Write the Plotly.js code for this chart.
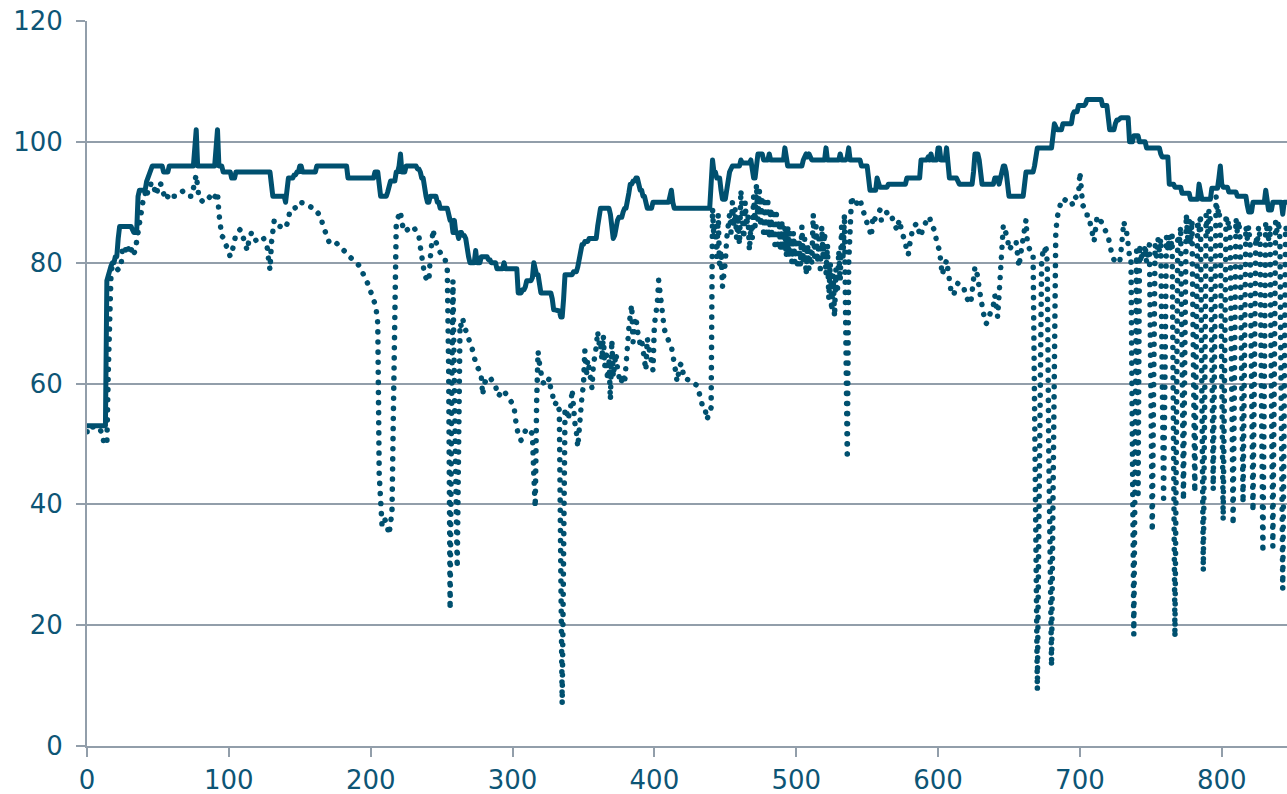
<!DOCTYPE html>
<html><head><meta charset="utf-8">
<script src="https://cdn.plot.ly/plotly-3.0.1.min.js"></script>
<style>html,body{margin:0;padding:0;background:#fff;overflow:hidden}#chart{width:1287px;height:794px}</style>
</head><body><div id="chart"></div>
<script>
const solidValues = [
53,53,53,53,53,53,53,53,53,53,
53,53,53,53,77,78,79,79.5,80,80,
81,81,84,86,86,86,86,86,86,86,
86,86,85.5,85,85,85,91,92,92,92,
92,92,93.4,94,94.5,95.5,96,96,96,96,
96,96,96,96,95,95,95,95,96,96,
96,96,96,96,96,96,96,96,96,96,
96,96,96,96,96,96,99,102,96,96,
96,96,96,96,96,96,96,96,96,96,
96,99,102,96,96,96,95,95,95,95,
95,95,94,94,94,95,95,95,95,95,
95,95,95,95,95,95,95,95,95,95,
95,95,95,95,95,95,95,95,95,95,
93,91,91,91,91,91,91,91,91,91,
90,92,94,94,94,94,94.5,94.5,95,95,
96,96,95,95,95,95,95,95,95,95,
95,95,96,96,96,96,96,96,96,96,
96,96,96,96,96,96,96,96,96,96,
96,96,96,96,94,94,94,94,94,94,
94,94,94,94,94,94,94,94,94,94,
94,94,94,95,95,95,93,91,91,91,
91,91,91.7,92.5,93.5,93.5,93.5,93.5,95,95,
96,98,95,95,95,96,96,96,96,96,
96,96,96,95.5,95.5,95,94,94,92,91,
90,90,91,91,91,91,91,90,90,89,
89,89,89,89,89,88,87,87,85,87,
85,85,84,85,85,84.5,84.5,84,82,81,
80,80,80,80,82,80,80,80,81,81,
81,81,81,80.5,80.5,80,80,80,80,79,
79,79,79,79,80,79,79,79,79,79,
79,79,79,79,75,75,75,75.5,75.5,76,
77,77,77,77,77.5,80,79,78,78,76,
75,75,75,75,75,75,75,75,74,72.2,
72.2,72.2,72,72,71,71,74,78,78,78,
78,78,78,78.5,78.5,78.5,79.3,81,82.6,83,
83,83.5,83.5,83.5,84,84,84,84,84,84,
86,87.5,89,89,89,89,89,89,89,88,
86,84,84.5,86,87,87.5,87.5,87.5,88.4,89,
89,90,91.5,93,93,93.5,93.5,94,94,93,
92,92,91,91,90,89,89,89,89,90,
90,90,90,90,90,90,90,90,90,90,
90,91,92,90,89,89,89,89,89,89,
89,89,89,89,89,89,89,89,89,89,
89,89,89,89,89,89,89,89,89,89,
93,97,95,95,94,94,94,92,90.5,90.5,
90.5,92,94,95,95.5,96,96,96,96,96,
96,97,96.5,96.5,96.5,96.5,96.5,96.5,97,95,
94,94,96,98,98,98,98,97,97,97,
97,98,97,97,97,97,97,97,97,97,
97,97,99,97,96,96,96,96,96,96,
96,96,96,96,96,97,97.5,98,97.5,98,
97.5,97,97,97,97,97,97,97,97,97,
97,99,97,97,97,97,97,97,97,97,
97,98,97,97,97,97,97.5,99,97,97,
97,97,97,97,97,97,96,96,96,96,
96,94,92,92,92,92,92,94,93,92.5,
92.5,92.5,92.5,92.5,92.5,93,93,93,93,93,
93,93,93,93,93,93,93,93,94,94,
94,94,94,94,94,94,94,94,97,97,
97,97,97,97.5,97,98,97,97,97,97,
99,99,97,97,97,97,99,96,94,94,
94,94,94,94,93.5,93,93,93,93,93,
93,93,93,93,93,95,98,98,98,97,
94,93,93,93,93,93,93,93,93,93,
94,94,94,93,94,95,96,96,95,93,
91,91,91,91,91,91,91,91,91,91,
91,93,95,95,95,95,95,95,96,98,
99,99,99,99,99,99,99,99,99,99,
99,101,103,102.5,102,102,102,102,103,103,
103,103,103,103,103,104.5,105,105,105,106,
106,106,106,106,106.3,107,107,107,107,107,
107,107,107,107,107,107,106,106,106,106,
104,102,102,102,102,103,103.6,103.6,104,104,
104,104,104,104,104,100,100,100,101,101,
101,101,100,100,100,100,100,99,99,99,
99,99,99,99,99,99,99,98,97.5,97.5,
97.5,97.5,97.5,93,93,93,93,92.5,92.5,92.5,
92.5,92.5,91.5,91.5,91.5,91.5,91.5,91.5,90.5,90.5,
90.5,90.5,90.5,90.5,93,91,90.5,90.5,90.5,90.5,
90.5,90.5,90.5,92.3,92.3,92.3,92.3,92.3,94,96,
93,92.5,92.5,92.5,92.5,91.7,91.7,91.7,91.7,91.7,
91.7,91,91,91,91,91,91,91,89.5,88.4,
88.4,88.4,90,90,90,90,90,90,90,90,
90,92,90,88.7,88.7,88.7,90,90,90,90,
90,90,90,88,90,90,90
];
const dottedValues = [
52,52,52.5,53,52.8,52.8,52.8,52.8,52.5,52.5,
52,51.5,50,50,50,62,74,78.8,79.3,79,
79.3,79,78.8,79,79.3,82.6,82.5,82,83,82.4,
81.4,82,82.5,81.5,82,83.5,85,87,89,90.5,
91,91.5,90.7,92,92,93,93.2,93.2,91.5,91.2,
92.5,93.2,93,92,91.5,90.7,90.4,91,91.5,91.5,
91.2,91,91,91,91.3,91.5,91.8,92,91.9,91.7,
91.5,91.5,91.2,91,91,92.9,93.5,94.5,92,90.6,
90.5,90.2,90,90,90.3,90.7,91,91,90.5,90.4,
90.8,91.3,91.7,88.2,86,84.4,84.2,83.5,83,82.6,
81.5,81,81.5,82.7,83.5,84.7,85,85.3,85.5,85,
84.3,84,83,82,83.5,84,85,84.5,84,83.7,
83.8,84,84,84.2,84.3,83.8,83,82.6,80.5,78.8,
83.2,85.1,87,86.5,86,86,86,85.9,85.8,85.7,
85.7,86.4,87,88.7,88.8,89,89,89.2,89.3,89.3,
90,90,89.9,89.8,89.8,89.7,89.5,89.4,89.2,89,
89,88.7,88.4,88.1,87.9,87.6,86.4,85.6,84.9,84.4,
83.6,83.2,83.1,83.2,83.3,83.3,83.2,83,82.7,82.4,
82.1,81.9,81.7,81.5,81.3,81.1,80.8,80.6,80.4,80.2,
80,79.9,79.5,79,78.5,78.3,78,77.3,76.7,76,
75.2,74.6,74,73.2,72,70,45,37,36.5,37.5,
37.5,36.9,36,35,37,38.5,55,84,86,87.3,
88.4,88.5,86.5,85.5,85.1,85.3,85.5,85.7,85.8,86,
86,85.6,85,84.6,84.4,82.6,80.8,78.8,78,77.5,
77,76.9,80.7,84.5,85.5,84,83.3,82.7,82,81.7,
81.5,81.3,81,80,79,62,22.6,55,77,60,
40,29.5,50,70,69.4,70.6,69.5,68.9,68.3,67.7,
67.2,66,65.4,64.3,63.3,62.8,62.4,62,61,58.1,
60,60.5,60.8,61.1,61,60.7,60.4,60,59.7,58.5,
57.9,58.2,58.5,58.7,58.9,58.4,58,57.5,57.2,57,
56.7,56.3,54.2,52.3,51.5,51,50.6,51.2,51.8,52.2,
52.6,52.4,52.1,51.9,51.7,45,39.5,57,65.3,63.3,
61.5,60.5,60,60.2,59.9,60.5,60.9,58.9,58.5,57,
56.5,57,56,55.6,30,7,32,55.5,55.9,54,
55,56.2,59,54.5,53.4,52,49.5,52.3,56.2,58,
59.7,65.5,61.1,63.9,62.5,60.8,59.2,63,64.4,66,
68.6,66.6,67.2,63.9,68,62.8,65.5,60.6,64.2,57.3,
67.2,61.1,63.3,65,62.5,61,60,60.5,61.5,60,
63.9,67.7,69.1,71.3,73,66.9,69.4,71,68.8,67,
66.5,67.2,65,64.4,62.2,67.5,66,65,64.4,62.2,
69.7,71.6,73.2,77.1,75.2,72,70,69,68.3,67.5,
67,66.5,66.1,65,63.9,62,60.3,62.8,63,63.3,
61.5,60.8,60.8,60.7,60.7,60.6,60.6,60.3,60,59.8,
59.7,59,58.1,57,56.2,56.2,55.5,54,54.5,55,
56,89,84,86,81,88,79,82,76,78,
80,84,86,88,85,90,86,89,84,87,
83,92,88,84,90,86,88,82,86,84,
91,86,93,87,92,86,91,85,90,85,
90,84,89,84,88,83,88,83,87,82,
87,82,86,81,86,81,85,80,85,80,
84,79,84,79.5,86,80,84,78,83,79,
82,80,88,81,86,80,84,79,86,81,
85,78,83,74,80,72,78,71,79,75,
82,77,86,81,88,70,47.5,80,89,91,
90,89.5,89.3,90,90.6,90.6,89.5,88.5,87.7,87,
86.5,86,85,84.3,87.6,87,87.5,88,88.5,88.7,
87,87.5,88,88.2,88.3,88.4,88.4,87.8,87.2,86.5,
85.8,85.4,86.5,87.1,85.5,84.9,84,83.2,81.8,81.3,
83,84.9,85.5,86,86.3,86.5,85.5,84.8,84.3,85.5,
86.2,86.5,87,87.3,87.6,86.5,86,85.5,85.1,83.2,
82.5,82.1,79.9,78,79,80,80.4,78.8,76.6,75.5,
74.8,74.6,75.5,76,76.6,76.4,76.2,76.1,76,75,
74.1,73.8,73.5,73.2,75.2,77.1,79.3,78.5,77.7,75.7,
73.8,72.5,71.6,70.8,69.9,70.5,71,71.6,72.5,73,
74.6,72.8,71,74.6,78.2,84.3,86.2,85.5,84.8,84,
82.1,82.5,83,83.3,83.5,83.5,80.7,79.3,81,82.5,
83.2,84.9,87.1,83.2,82.3,81.5,81.3,81.2,55,28,
9.3,35,62,80,82,81.5,83,80,50,25,
13.2,40,70,85,87.5,88.5,89.5,90.4,90.3,90.2,
90.5,90.6,90.4,90.2,90.1,89.5,90.6,90.8,91,91.2,
95,91,89.5,89.2,88.5,87.9,87.9,86.5,86,84.1,
83.5,85.5,87.4,87,86.5,86.8,86.3,85.8,85.4,85,
84.3,83,81.6,81,80.5,80,80,80,80,82,
84,86.8,85.5,84.9,83,81,81,50,18.4,50,
82,41,83,80,82,81,83,80,82,83,
60,35.5,60,83,81,84,82,84,62,41,
62,84.3,82,84.5,82,84.6,50,18,50,84.6,
83,86,65,40.7,66,88,84,87,83,87,
64,42,65,87,85,88,58,29,58,88,
85,88.7,87,66,42.4,66,91,88,89,86,
62,37.4,62,88,86,87,84,62,36.6,62,
87.3,85,87,84,64,40.2,64,86,84,86,
83,62,38.8,62,84.3,83,86,84,58,32,
60,86.8,85.4,84,86,60,33,60,86.8,85,
87,84,55,26,55,86,85
];
const xTickValues = [0, 100, 200, 300, 400, 500, 600, 700, 800];
const yTickValues = [0, 20, 40, 60, 80, 100, 120];
const xSolid = solidValues.map((v, i) => i);
const xDotted = dottedValues.map((v, i) => i);

const lineColor = '#00506f';
const gridColor = '#929eaa';
const textColor = '#0d5575';

const traces = [
  {x: xSolid, y: solidValues, type: 'scatter', mode: 'lines', name: 'solid',
   line: {color: lineColor, width: 5}, hoverinfo: 'skip'},
  {x: xDotted, y: dottedValues, type: 'scatter', mode: 'lines', name: 'dotted',
   line: {color: lineColor, width: 5.5, dash: '0.1px,10px'}, hoverinfo: 'skip'}
];
const axisCommon = {
  ticks: 'outside', ticklen: 9, tickwidth: 2, tickcolor: gridColor,
  showline: true, linecolor: gridColor, linewidth: 2, zeroline: false,
  tickfont: {family: 'DejaVu Sans, Verdana, sans-serif', size: 26, color: textColor},
  fixedrange: true
};
const layout = {
  width: 1287, height: 794,
  margin: {l: 87, r: 0, t: 21, b: 48, pad: 0},
  paper_bgcolor: '#ffffff', plot_bgcolor: '#ffffff',
  showlegend: false,
  font: {family: 'DejaVu Sans, Verdana, sans-serif', size: 26, color: textColor},
  xaxis: Object.assign({}, axisCommon, {range: [0, 846], tickmode: 'array', tickvals: xTickValues,
    ticktext: xTickValues.map(String), showgrid: false, ticklabelstandoff: 1}),
  yaxis: Object.assign({}, axisCommon, {range: [0, 120], tickmode: 'array', tickvals: yTickValues,
    ticktext: yTickValues.map(String), showgrid: true, gridcolor: gridColor, gridwidth: 2,
    ticklabelstandoff: 8})
};
Plotly.newPlot('chart', traces, layout, {staticPlot: true, displayModeBar: false}).then(function () {
  document.querySelectorAll('.scatterlayer .trace path.js-line').forEach(function (p) {
    p.style.strokeLinecap = 'round';
    p.style.strokeLinejoin = 'round';
  });
});
</script>
</body></html>
